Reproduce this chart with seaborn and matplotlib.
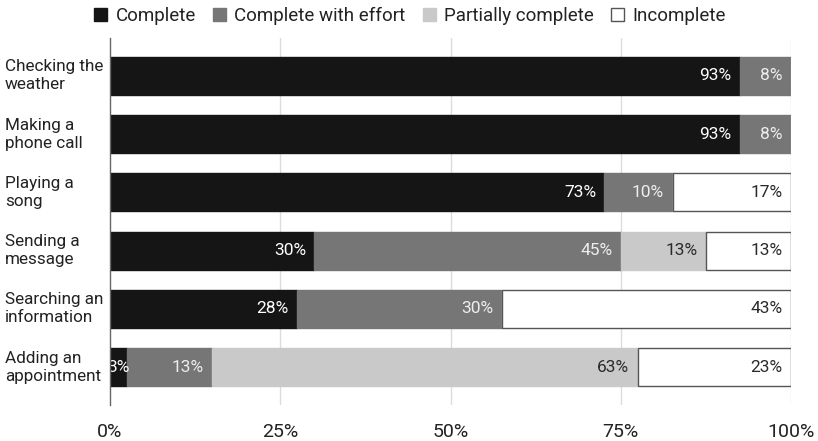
import matplotlib
matplotlib.use("Agg")
import matplotlib.pyplot as plt
import matplotlib.transforms as mtransforms
from matplotlib.patches import Patch
import numpy as np
import pandas as pd
import seaborn as sns

# Task completion shares (percent of participants)
tasks = [
    "Checking the\nweather",
    "Making a\nphone call",
    "Playing a\nsong",
    "Sending a\nmessage",
    "Searching an\ninformation",
    "Adding an\nappointment",
]
statuses = ["Complete", "Complete with effort", "Partially complete", "Incomplete"]
complete = [92.5, 92.5, 72.6, 30.0, 27.5, 2.5]
with_effort = [7.5, 7.5, 10.0, 45.0, 30.0, 12.5]
partial = [0.0, 0.0, 0.0, 12.5, 0.0, 62.5]
incomplete = [0.0, 0.0, 17.4, 12.5, 42.5, 22.5]
x_ticks = [0, 25, 50, 75, 100]

fills = ["#151515", "#767676", "#c9c9c9", "#ffffff"]
edges = ["#151515", "#767676", "#c9c9c9", "#555555"]
text_colors = ["#ffffff", "#eeeeee", "#2a2a2a", "#2a2a2a"]

sns.set_theme(style="white")
plt.rcParams["font.family"] = ["Roboto", "DejaVu Sans"]

df = pd.DataFrame({"task": tasks, "Complete": complete,
                   "Complete with effort": with_effort,
                   "Partially complete": partial, "Incomplete": incomplete})

fig = plt.figure(figsize=(8.18, 4.41), dpi=100)
ax = fig.add_axes([110 / 818, 1 - 405 / 441, 681 / 818, 367 / 441])

lefts = np.zeros(len(tasks))
for i, status in enumerate(statuses):
    vals = df[status].to_numpy()
    sns.barplot(data=df, x=status, y="task", order=tasks, orient="y", ax=ax,
                color=fills[i], left=lefts.copy(), width=0.65,
                edgecolor=edges[i], linewidth=1.0, saturation=1)
    for j, v in enumerate(vals):
        if v <= 0:
            continue
        end = lefts[j] + v
        label = f"{int(np.floor(v + 0.5))}%"
        if v < 5:
            ax.text(lefts[j] + v / 2, j, label, ha="center", va="center",
                    fontsize=12.5, color=text_colors[i], clip_on=True)
        else:
            ax.annotate(label, (end, j), xytext=(-6, 0), textcoords="offset points",
                        ha="right", va="center", fontsize=12.5, color=text_colors[i])
    lefts = lefts + vals

ax.set_xlim(0, 100)
ax.set_ylim(len(tasks) - 0.35, -0.65)
ax.set_xticks(x_ticks)
ax.set_xticklabels([f"{t}%" for t in x_ticks], fontsize=14, color="#222222")
ax.tick_params(axis="x", length=0, pad=13)
ax.set_xlabel("")
ax.set_ylabel("")
ax.set_yticks(range(len(tasks)))
ax.set_yticklabels([])
ax.tick_params(axis="y", length=0)

ax.grid(False)
for t in x_ticks[1:]:
    ax.axvline(t, color="#dcdcdc", linewidth=1.0, zorder=0)
for side in ["top", "right", "bottom"]:
    ax.spines[side].set_visible(False)
ax.spines["left"].set_color("#666666")
ax.spines["left"].set_linewidth(1.0)
ax.spines["left"].set_zorder(5)

# Category labels, left aligned at the figure edge
trans = mtransforms.blended_transform_factory(fig.transFigure, ax.transData)
for j, name in enumerate(tasks):
    ax.text(5 / 818, j, name, transform=trans, ha="left", va="center",
            fontsize=12.3, color="#222222", linespacing=1.25, clip_on=False)

handles = [Patch(facecolor=fills[i], edgecolor=edges[i] if i == 3 else fills[i],
                 linewidth=1.0) for i in range(4)]
fig.legend(handles, statuses, loc="center", bbox_to_anchor=(410 / 818, 1 - 16 / 441),
           ncol=4, frameon=False, fontsize=13.5, handlelength=0.7, handleheight=0.7,
           handletextpad=0.45, columnspacing=0.9, labelcolor="#222222")

fig.savefig("out.png", dpi=100)
